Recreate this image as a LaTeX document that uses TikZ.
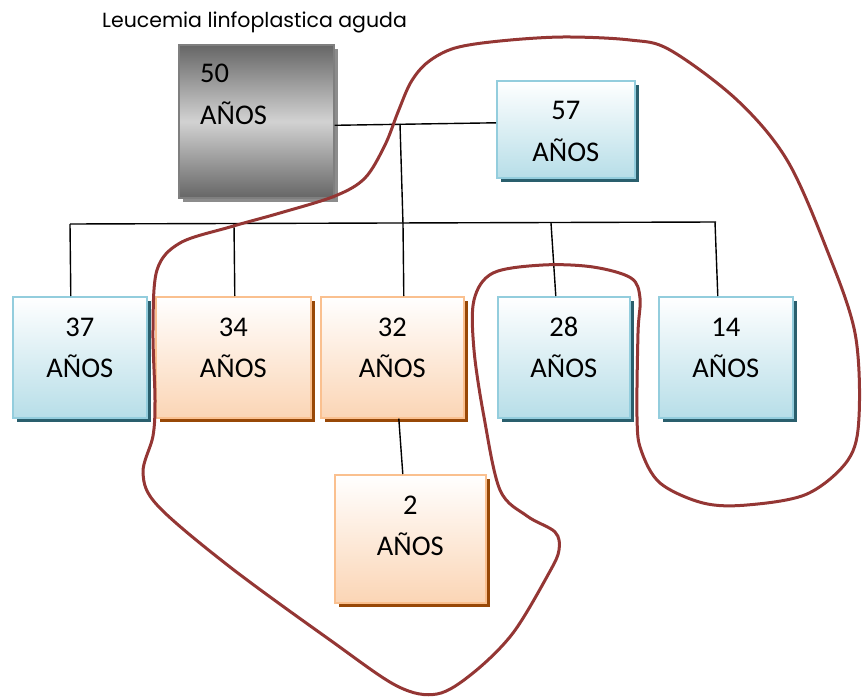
\documentclass[tikz,border=0pt]{standalone}
\usepackage{fontspec}
\setmainfont{Carlito}
\newfontfamily\titlefont{Poppins}
\usetikzlibrary{shadows,calc}

\definecolor{blueBorder}{HTML}{93CDDD}
\definecolor{blueBot}{HTML}{B7DEE8}
\definecolor{blueShadow}{HTML}{2A5F6D}
\definecolor{orangeBorder}{HTML}{FAC08F}
\definecolor{orangeBot}{HTML}{FBD5B5}
\definecolor{orangeShadow}{HTML}{984807}
\definecolor{grayEdge}{HTML}{7F7F7F}
\definecolor{grayDark}{HTML}{666666}
\definecolor{grayLight}{HTML}{D2D2D2}
\definecolor{grayShadow}{HTML}{8C8C8C}
\definecolor{loopRed}{HTML}{943634}

\tikzset{
  agebox/.style={rectangle, inner sep=0pt, anchor=north west, line width=1.6pt},
  bluebox/.style={agebox, draw=blueBorder, top color=white, bottom color=blueBot,
    drop shadow={shadow xshift=4.5pt, shadow yshift=-4.5pt, opacity=1, fill=blueShadow}},
  orangebox/.style={agebox, draw=orangeBorder, top color=white, bottom color=orangeBot,
    drop shadow={shadow xshift=4.5pt, shadow yshift=-4.5pt, opacity=1, fill=orangeShadow}},
  graybox/.style={agebox, draw=grayEdge, top color=grayDark, bottom color=grayDark, middle color=grayLight,
    drop shadow={shadow xshift=4.5pt, shadow yshift=-4.5pt, opacity=1, fill=grayShadow}},
  agetext/.style={anchor=base, inner sep=0pt, font=\fontsize{28.5}{34}\selectfont},
  link/.style={draw=black, line width=1.4pt},
  loop/.style={draw=loopRed, line width=3pt}
}

\begin{document}
\begin{tikzpicture}[x=1pt, y=1pt]
\useasboundingbox (0,0) rectangle (862,-698);

% title
\node[anchor=base west, inner sep=0pt, font=\titlefont\fontsize{20.5}{24}\selectfont] (title) at (102,-28) {Leucemia linfoplastica aguda};

% boxes
\node[graybox, minimum width=155, minimum height=153] (b50) at (178,-44) {};
\node[bluebox, minimum width=138, minimum height=97] (b57) at (496,-80) {};
\node[bluebox, minimum width=134, minimum height=121] (b37) at (12,-296) {};
\node[orangebox, minimum width=155, minimum height=121] (b34) at (155,-296) {};
\node[orangebox, minimum width=143, minimum height=121] (b32) at (320,-296) {};
\node[bluebox, minimum width=132, minimum height=121] (b28) at (497,-296) {};
\node[bluebox, minimum width=134, minimum height=121] (b14) at (658,-296) {};
\node[orangebox, minimum width=151, minimum height=128] (b2) at (334,-474) {};

% labels
\node[agetext, anchor=base west] (t50a) at (200,-83) {50};
\node[agetext, anchor=base west] (t50b) at (200,-125) {AÑOS};
\foreach \b in {57,37,34,32,28,14,2}{
  \node[agetext] (t\b a) at ($(b\b.north)+(0,-40)$) {\b};
  \node[agetext] (t\b b) at ($(b\b.north)+(0,-81)$) {AÑOS};
}

% connectors
\coordinate (j1) at (400,-124);
\coordinate (j2) at (403,-224);
\coordinate (bl) at (70,-224);
\coordinate (br) at (716,-222);
\coordinate (d34) at (234,-224);
\coordinate (d28) at (551,-223);
\coordinate (d14) at (715,-222);
\draw[link] ([yshift=-4pt]b50.east) -- ([yshift=6.5pt]b57.west);
\draw[link] (j1) -- (j2);
\draw[link] (bl) -- (br);
\draw[link] (bl) -- ([xshift=-9pt]b37.north);
\draw[link] (d34) -- ([xshift=1.5pt]b34.north);
\draw[link] (j2) -- ([xshift=11.5pt]b32.north);
\draw[link] (d28) -- ([xshift=-8pt]b28.north);
\draw[link] (d14) -- ([xshift=-8pt]b14.north);
\draw[link] ([xshift=6.5pt]b32.south) -- ([xshift=-7.5pt]b2.north);

% enclosing loop
\draw[loop] plot[smooth cycle, tension=0.55] coordinates {
  (455,-48) (500,-41) (563,-37) (630,-40) (670,-50) (737,-100) (787,-160)
  (827,-250) (855,-333) (859,-417) (848,-460) (807,-494) (747,-505) (703,-503)
  (660,-483) (641,-450) (637,-417) (638,-333) (640,-298) (631,-278) (593,-267)
  (543,-265) (493,-273) (474,-300) (474,-350) (484,-417) (500,-490) (527,-516)
  (555,-532) (559,-550) (549,-573) (513,-633) (473,-673) (437,-694) (397,-686)
  (330,-640) (230,-567) (158,-506) (143,-473) (153,-436) (155,-400) (153,-330)
  (157,-270) (180,-243) (230,-227) (280,-213) (335,-196) (365,-178) (385,-145)
  (398,-112) (411,-82) (428,-62)};
\end{tikzpicture}
\end{document}
